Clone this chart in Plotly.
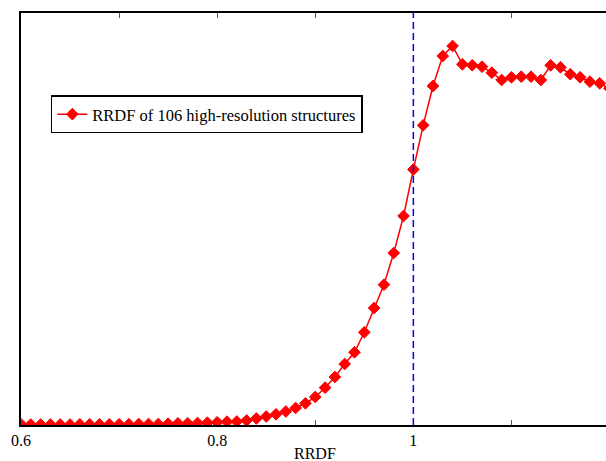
import plotly.graph_objects as go

# RRDF bin centres
rrdf = [round(0.60 + 0.01 * i, 2) for i in range(61)]
# density values (arbitrary units)
density = [
    0.017, 0.012, 0.012, 0.012, 0.012, 0.012, 0.017, 0.017, 0.017, 0.017,
    0.017, 0.019, 0.024, 0.024, 0.024, 0.032, 0.041, 0.041, 0.049, 0.056,
    0.066, 0.080, 0.085, 0.109, 0.158, 0.206, 0.260, 0.328, 0.413, 0.527,
    0.680, 0.906, 1.165, 1.481, 1.765, 2.250, 2.840, 3.405, 4.175, 5.073,
    6.201, 7.274, 8.228, 8.956, 9.199, 8.755, 8.731, 8.697, 8.551, 8.374,
    8.439, 8.454, 8.454, 8.374, 8.730, 8.682, 8.513, 8.439, 8.333, 8.293,
    8.170,
]
tick_vals = [0.6, 0.7, 0.8, 0.9, 1.0, 1.1, 1.2]
tick_text = ["0.6", "", "0.8", "", "1", "", ""]
series_name = "RRDF of 106 high-resolution structures"
x_title = "RRDF"
ref_line_x = 1.0

FONT = "Liberation Serif"

fig = go.Figure()
fig.add_trace(go.Scatter(
    x=rrdf, y=density, mode="lines+markers", name=series_name,
    line=dict(color="#ff0000", width=1.5),
    marker=dict(symbol="diamond", size=9, color="#ff0000",
                line=dict(color="#ff0000", width=1)),
))

fig.add_shape(type="line", xref="x", yref="paper",
              x0=ref_line_x, x1=ref_line_x, y0=0, y1=1,
              line=dict(color="#0000ff", width=1.5, dash="7px,4px"))

fig.add_annotation(text=x_title, xref="x", yref="paper", x=0.9, y=0,
                   yshift=-28, showarrow=False, yanchor="middle",
                   font=dict(family=FONT, size=16, color="black"))

fig.update_layout(
    width=606, height=461,
    margin=dict(l=21, r=0, t=13, b=36),
    paper_bgcolor="white", plot_bgcolor="white",
    font=dict(family=FONT, size=16, color="black"),
    showlegend=True,
    legend=dict(x=0.051, y=0.80, xanchor="left", yanchor="top",
                bordercolor="black", borderwidth=1.5, bgcolor="white",
                font=dict(family=FONT, size=16.5), itemwidth=30,
                tracegroupgap=0),
    xaxis=dict(range=[0.6, 1.1964], tickvals=tick_vals, ticktext=tick_text,
               ticks="inside", ticklen=5, tickcolor="#555", tickwidth=1,
               showline=True, linecolor="black", linewidth=1.5,
               mirror="ticks", showgrid=False, zeroline=False,
               tickfont=dict(family=FONT, size=16)),
    yaxis=dict(range=[0, 10], showticklabels=False, ticks="",
               showline=True, linecolor="black", linewidth=1.5,
               showgrid=False, zeroline=False),
)

fig.write_html(
    "out.html",
    config={"displayModeBar": False},
    post_script="document.body.style.margin='0';document.body.style.overflow='hidden';",
)
